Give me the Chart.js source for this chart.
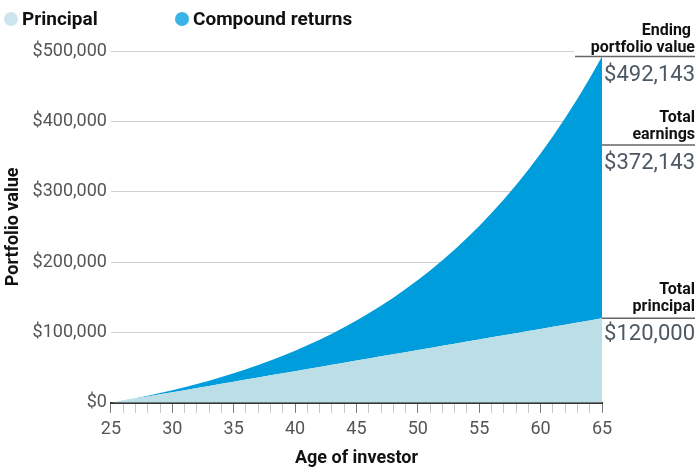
<!DOCTYPE html>
<html>
<head>
<meta charset="utf-8">
<script src="https://cdn.jsdelivr.net/npm/chart.js@4.4.1/dist/chart.umd.min.js"></script>
<style>
  body { margin: 0; background: #fff; font-family: Roboto, "Noto Sans", sans-serif; }
  #wrap { position: relative; width: 700px; height: 475px; }
  .legend { position: absolute; top: 7px; left: 4px; display: flex; font-weight: 700; font-size: 19px; color: #111; }
  .legend span { display: flex; align-items: center; }
  .legend i { display: inline-block; width: 14px; height: 14px; border-radius: 50%; margin-right: 4px; }
</style>
</head>
<body>
<div id="wrap">
  <canvas id="chart"></canvas>
  <div class="legend">
    <span style="width:171px"><i style="background:#cde6ee"></i>Principal</span>
    <span><i style="background:#3ab3e6"></i>Compound returns</span>
  </div>
</div>
<script>
// Age of investor (x axis)
const ages = [25, 26, 27, 28, 29, 30, 31, 32, 33, 34, 35, 36, 37, 38, 39, 40, 41, 42, 43, 44,
              45, 46, 47, 48, 49, 50, 51, 52, 53, 54, 55, 56, 57, 58, 59, 60, 61, 62, 63, 64, 65];

// Money put in so far
const principal = [0, 3000, 6000, 9000, 12000, 15000, 18000, 21000, 24000, 27000,
                   30000, 33000, 36000, 39000, 42000, 45000, 48000, 51000, 54000, 57000,
                   60000, 63000, 66000, 69000, 72000, 75000, 78000, 81000, 84000, 87000,
                   90000, 93000, 96000, 99000, 102000, 105000, 108000, 111000, 114000, 117000, 120000];

// Portfolio value incl. compound returns
const totalValue = [0, 3180, 6551, 10124, 13911, 17926, 22182, 26692, 31474, 36542,
                    41915, 47610, 53646, 60045, 66828, 74018, 81639, 89717, 98280, 107357,
                    116978, 127177, 137987, 149447, 161594, 174469, 188117, 202584, 217919, 234175,
                    251405, 269669, 289030, 309551, 331305, 354363, 378805, 404713, 432176, 461286, 492143];

const yTicks = [0, 100000, 200000, 300000, 400000, 500000];

const money = v => '$' + v.toLocaleString('en-US');

// Labels on the right of the plot
const sideLabels = {
  id: 'sideLabels',
  afterDraw(chart) {
    const ctx = chart.ctx;
    const y = chart.scales.y;
    const right = chart.chartArea.right;
    const endY = y.getPixelForValue(totalValue[totalValue.length - 1]);
    const prinY = y.getPixelForValue(principal[principal.length - 1]);
    const earnY = 145;
    const textX = 695;

    ctx.save();
    // white box behind the top label (cuts the gridline)
    ctx.fillStyle = '#fff';
    ctx.fillRect(574, 30, 126, endY - 31);

    ctx.strokeStyle = '#666';
    ctx.lineWidth = 1.5;
    ctx.beginPath();
    ctx.moveTo(575, endY); ctx.lineTo(textX, endY);
    ctx.moveTo(right, earnY); ctx.lineTo(textX, earnY);
    ctx.moveTo(right, prinY); ctx.lineTo(textX, prinY);
    ctx.stroke();

    ctx.textAlign = 'right';
    ctx.textBaseline = 'alphabetic';
    ctx.fillStyle = '#111';
    ctx.font = '700 16px Roboto';
    ctx.fillText('Ending', textX - 4, endY - 22);
    ctx.fillText('portfolio value', textX, endY - 5);
    ctx.fillText('Total', textX, earnY - 23);
    ctx.fillText('earnings', textX, earnY - 6);
    ctx.fillText('Total', textX, prinY - 24);
    ctx.fillText('principal', textX, prinY - 7);

    ctx.fillStyle = '#4d5863';
    ctx.font = '400 22px Roboto';
    const earnings = totalValue[totalValue.length - 1] - principal[principal.length - 1];
    ctx.fillText(money(totalValue[totalValue.length - 1]), textX, endY + 24);
    ctx.fillText(money(earnings), textX, earnY + 24);
    ctx.fillText(money(principal[principal.length - 1]), textX, prinY + 22);
    ctx.restore();
  }
};

new Chart(document.getElementById('chart'), {
  type: 'line',
  data: {
    datasets: [
      {
        label: 'Principal',
        data: ages.map((a, i) => ({ x: a, y: principal[i] })),
        backgroundColor: '#bcdee6',
        borderWidth: 0,
        pointRadius: 0,
        fill: 'origin'
      },
      {
        label: 'Compound returns',
        data: ages.map((a, i) => ({ x: a, y: totalValue[i] })),
        backgroundColor: '#009ddc',
        borderWidth: 0,
        pointRadius: 0,
        fill: '-1'
      }
    ]
  },
  options: {
    responsive: true,
    maintainAspectRatio: false,
    animation: false,
    layout: { padding: { top: 51, right: 98, left: 3, bottom: 6 } },
    plugins: {
      legend: { display: false },
      tooltip: { enabled: false }
    },
    scales: {
      x: {
        type: 'linear',
        min: 25,
        max: 65,
        border: { display: true, color: '#333', width: 2 },
        grid: {
          drawOnChartArea: false,
          tickLength: 10,
          tickColor: ctx => (ctx.tick && ctx.tick.value % 5 === 0) ? '#777' : '#c4c4c4'
        },
        ticks: {
          stepSize: 1,
          autoSkip: false,
          maxRotation: 0,
          color: '#555',
          font: { family: 'Roboto', size: 18 },
          padding: 6,
          callback: v => v % 5 === 0 ? v : ''
        },
        title: {
          display: true,
          text: 'Age of investor',
          color: '#111',
          font: { family: 'Roboto', size: 18, weight: '700' },
          padding: { top: 1, bottom: 0 }
        }
      },
      y: {
        min: 0,
        max: 500000,
        afterBuildTicks: axis => { axis.ticks = yTicks.map(v => ({ value: v })); },
        border: { display: false },
        grid: { color: '#d0d0d0', drawTicks: false, lineWidth: 1 },
        ticks: {
          color: '#555',
          font: { family: 'Roboto', size: 18 },
          padding: 4,
          callback: v => money(v)
        },
        title: {
          display: true,
          text: 'Portfolio value',
          color: '#111',
          font: { family: 'Roboto', size: 18, weight: '700' },
          padding: { top: 0, bottom: 4 }
        }
      }
    }
  },
  plugins: [sideLabels]
});
</script>
</body>
</html>
